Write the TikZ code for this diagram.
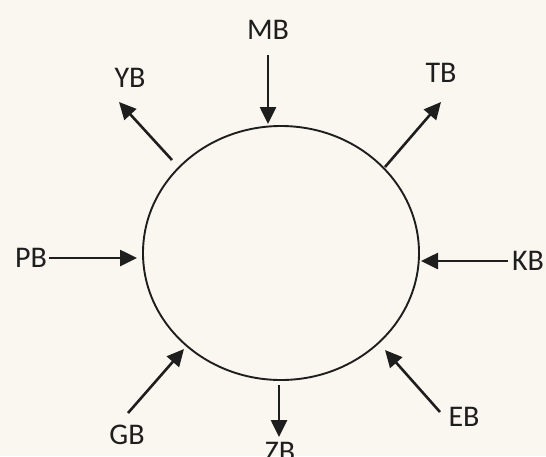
\documentclass[tikz,border=0pt]{standalone}
\usepackage{fontspec}
\setmainfont{Carlito}
\usetikzlibrary{arrows.meta,shapes.geometric,positioning,calc}
\definecolor{paper}{HTML}{FAF7F0}
\definecolor{ink}{HTML}{1E1E1E}
\tikzstyle{tag} = [text=ink, inner sep=0pt, font=\fontsize{30}{32}\selectfont]
\tikzstyle{ring} = [draw=ink, line width=1.9pt, shape=ellipse, minimum width=276pt, minimum height=254pt]
\tikzstyle{Arrow} = [-{Triangle[length=17pt,width=16pt]}, draw=ink, line width=2.6pt]

\begin{document}
\begin{tikzpicture}[x=1pt,y=-1pt]
            \fill[paper] (0,0) rectangle (546,456);
            \useasboundingbox (0,0) rectangle (546,456);
            %%%%% Ring %%%%%
            \node (C) [ring] at (281,253) {};
            %%%%% Labels %%%%%
            \node (MB) [tag] at (268,30) {MB};
            \node (YB) [tag] at (130,78) {YB};
            \node (TB) [tag] at (441,73) {TB};
            \node (PB) [tag] at (31,258) {PB};
            \node (KB) [tag] at (528,261) {KB};
            \node (GB) [tag] at (127,435) {GB};
            \node (ZB) [tag] at (280,452) {ZB};
            \node (EB) [tag] at (464,417) {EB};
            %%%%% Arrow ends %%%%%
            \coordinate (MBa) at (268,55);   \coordinate (MBb) at (268,124);
            \coordinate (YBa) at (172,160);  \coordinate (YBb) at (119,102);
            \coordinate (TBa) at (385,167);  \coordinate (TBb) at (441,102);
            \coordinate (PBa) at (49,258);   \coordinate (PBb) at (137,258);
            \coordinate (KBa) at (508,261);  \coordinate (KBb) at (421,261);
            \coordinate (GBa) at (128,413);  \coordinate (GBb) at (184,349);
            \coordinate (ZBa) at (279,385);  \coordinate (ZBb) at (279,437);
            \coordinate (EBa) at (440,412);  \coordinate (EBb) at (385,350);
            %%%%% Arrows %%%%%
            \draw [Arrow] (MBa) -- (MBb);
            \draw [Arrow] (YBa) -- (YBb);
            \draw [Arrow] (TBa) -- (TBb);
            \draw [Arrow] (PBa) -- (PBb);
            \draw [Arrow] (KBa) -- (KBb);
            \draw [Arrow] (GBa) -- (GBb);
            \draw [Arrow] (ZBa) -- (ZBb);
            \draw [Arrow] (EBa) -- (EBb);
\end{tikzpicture}
\end{document}
